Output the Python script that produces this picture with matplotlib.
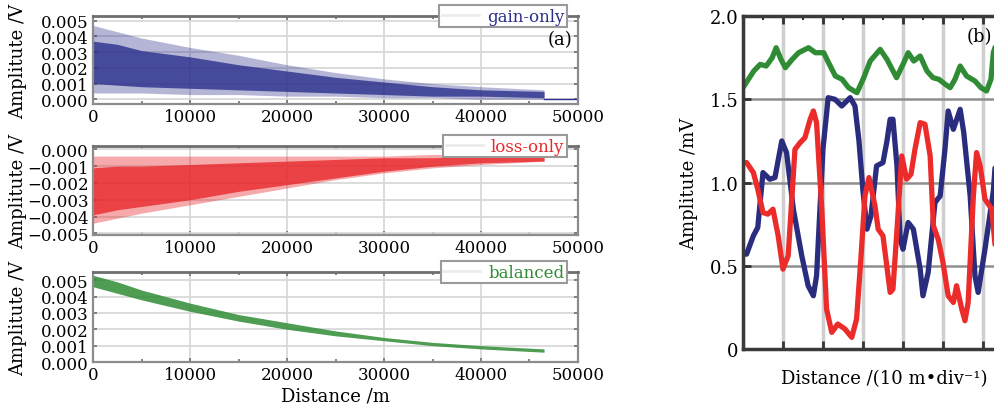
import matplotlib
matplotlib.use('Agg')
import matplotlib.pyplot as plt
from matplotlib.lines import Line2D
from matplotlib.ticker import MultipleLocator, FuncFormatter

plt.rcParams['font.family'] = ['DejaVu Serif', 'DejaVu Sans']
plt.rcParams['axes.unicode_minus'] = True

# ---- (a) envelopes ----
distance = [0, 2500, 5000, 10000, 15000, 20000, 25000, 30000, 35000, 40000, 46500]

gain_outer_hi = [0.0047, 0.0043, 0.0039, 0.0033, 0.0028, 0.0022, 0.0017, 0.0013, 0.0010, 0.0008, 0.0006]
gain_outer_lo = [0.0004, 0.0004, 0.0004, 0.0003, 0.0003, 0.0002, 0.0002, 0.0001, 0.0001, 0.0000, 0.0000]
gain_core_hi = [0.0037, 0.0035, 0.0031, 0.0027, 0.0022, 0.0018, 0.0014, 0.0011, 0.0008, 0.0006, 0.0005]
gain_core_lo = [0.0010, 0.0009, 0.0008, 0.0007, 0.0006, 0.0005, 0.0004, 0.0003, 0.0002, 0.0002, 0.0001]
gain_tail_x = [46500, 50000]
gain_tail_y = [0.00003, 0.00003]

loss_outer_hi = [-0.0004, -0.0004, -0.0004, -0.0004, -0.0004, -0.0004, -0.0004, -0.0004, -0.0003, -0.0003, -0.0003]
loss_outer_lo = [-0.0044, -0.0041, -0.0038, -0.0033, -0.0028, -0.0023, -0.0018, -0.0014, -0.0011, -0.0009, -0.0007]
loss_core_hi = [-0.0011, -0.0010, -0.0010, -0.0009, -0.0008, -0.0007, -0.0006, -0.0005, -0.0005, -0.0004, -0.0004]
loss_core_lo = [-0.0039, -0.0036, -0.0034, -0.0030, -0.0025, -0.0021, -0.0017, -0.0013, -0.0010, -0.0008, -0.0007]

bal_hi = [0.0053, 0.0049, 0.0044, 0.0036, 0.0029, 0.0024, 0.0019, 0.0015, 0.0012, 0.0010, 0.0008]
bal_lo = [0.0046, 0.0042, 0.0038, 0.0031, 0.0025, 0.0020, 0.0016, 0.0013, 0.0010, 0.0008, 0.0006]

# ---- (b) measured curves, x in divisions ----
green_x = [0, 0.27, 0.43, 0.58, 0.73, 0.83, 0.95, 1.06, 1.23, 1.39, 1.64, 1.81, 2.02, 2.14, 2.31,
           2.48, 2.64, 2.85, 3.02, 3.18, 3.43, 3.6, 3.84, 4.02, 4.13, 4.27, 4.43, 4.6, 4.75, 4.9,
           5.06, 5.18, 5.3, 5.43, 5.59, 5.8, 5.95, 6.09, 6.2, 6.26, 6.35]
green_y = [1.57, 1.67, 1.71, 1.70, 1.75, 1.81, 1.74, 1.69, 1.74, 1.78, 1.81, 1.78, 1.78, 1.72, 1.64,
           1.62, 1.57, 1.54, 1.63, 1.73, 1.80, 1.74, 1.63, 1.72, 1.78, 1.73, 1.76, 1.67, 1.63, 1.62,
           1.59, 1.57, 1.62, 1.70, 1.64, 1.61, 1.57, 1.55, 1.62, 1.78, 1.85]

blue_x = [0, 0.09, 0.26, 0.37, 0.5, 0.67, 0.8, 0.97, 1.09, 1.26, 1.47, 1.63, 1.76, 1.84, 2.0, 2.13,
          2.3, 2.47, 2.68, 2.8, 2.9, 3.0, 3.1, 3.2, 3.34, 3.5, 3.6, 3.68, 3.75, 3.85, 3.93, 4.0,
          4.13, 4.26, 4.43, 4.5, 4.63, 4.8, 4.93, 5.05, 5.13, 5.26, 5.43, 5.52, 5.68, 5.8, 5.88,
          6.05, 6.26, 6.35]
blue_y = [0.57, 0.57, 0.68, 0.73, 1.06, 1.02, 1.03, 1.25, 1.18, 0.84, 0.56, 0.38, 0.32, 0.44, 1.20,
          1.51, 1.50, 1.46, 1.51, 1.46, 1.25, 0.95, 0.72, 0.80, 1.10, 1.12, 1.25, 1.38, 1.38, 1.10,
          0.66, 0.60, 0.76, 0.72, 0.48, 0.32, 0.46, 0.88, 0.92, 1.20, 1.43, 1.32, 1.44, 1.30, 0.92,
          0.44, 0.34, 0.60, 0.95, 1.25]

red_x = [0, 0.09, 0.26, 0.37, 0.5, 0.62, 0.75, 0.88, 1.0, 1.13, 1.3, 1.43, 1.55, 1.68, 1.76, 1.84,
         1.97, 2.09, 2.22, 2.37, 2.55, 2.72, 2.84, 2.95, 3.05, 3.15, 3.3, 3.38, 3.5, 3.68, 3.75,
         3.86, 3.97, 4.09, 4.2, 4.3, 4.43, 4.55, 4.68, 4.76, 4.88, 5.0, 5.13, 5.26, 5.34, 5.47,
         5.55, 5.63, 5.76, 5.84, 5.93, 6.05, 6.22, 6.35]
red_y = [1.12, 1.12, 1.06, 0.96, 0.82, 0.81, 0.84, 0.68, 0.48, 0.56, 1.20, 1.24, 1.27, 1.38, 1.43,
         1.36, 0.84, 0.24, 0.10, 0.15, 0.12, 0.07, 0.18, 0.55, 0.92, 1.03, 0.86, 0.72, 0.68, 0.34,
         0.36, 0.75, 1.16, 1.02, 1.05, 1.20, 1.36, 1.35, 1.16, 0.74, 0.66, 0.52, 0.32, 0.28, 0.38,
         0.24, 0.17, 0.28, 0.92, 1.18, 1.10, 0.90, 0.84, 0.50]

right_yticks = [0, 0.5, 1.0, 1.5, 2.0]
right_yticklabels = ['0', '0.5', '1.0', '1.5', '2.0']

BLUE = '#2b2f8c'
RED = '#e8282c'
GREEN = '#2f8c34'


def _fmt(v, pos):
    s = f'{v:.3f}'
    if s == '-0.000':
        s = '0.000'
    return s.replace('-', '\u2212')


def style_left(ax, ylim, label, color):
    ax.set_xlim(0, 50000)
    ax.set_ylim(*ylim)
    ax.xaxis.set_major_locator(MultipleLocator(10000))
    ax.xaxis.set_minor_locator(MultipleLocator(5000))
    ax.yaxis.set_major_locator(MultipleLocator(0.001))
    ax.yaxis.set_major_formatter(FuncFormatter(_fmt))
    ax.set_axisbelow(True)
    ax.grid(True, which='major', color='#d6d6d6', lw=1.2)
    for s in ax.spines.values():
        s.set_color('#8c8c8c')
        s.set_linewidth(1.6)
    ax.spines['top'].set_color('#6e6e6e')
    ax.spines['top'].set_linewidth(2.0)
    ax.tick_params(direction='in', top=True, right=True, length=3, width=1.2,
                   color='#6e6e6e', labelsize=12, pad=3)
    ax.tick_params(which='minor', direction='in', top=True, bottom=True, length=2.5, width=1.2,
                   color='#6e6e6e')
    ax.set_ylabel('Amplitute /V', fontsize=13)
    ax.yaxis.set_label_coords(-0.135, 0.5)
    handle = Line2D([], [], color='#ececec', lw=2)
    leg = ax.legend([handle], [label], loc='upper right', bbox_to_anchor=(0.977, 1.12),
                    labelcolor=color, fancybox=False, edgecolor='#9a9a9a', framealpha=1,
                    handlelength=2.2, handletextpad=0.5, borderpad=0.15, borderaxespad=0,
                    fontsize=12)
    leg.get_frame().set_linewidth(1.5)
    leg.set_zorder(10)


fig = plt.figure(figsize=(9.95, 4.10), dpi=100)

ax1 = fig.add_axes([0.0935, 0.7439, 0.4874, 0.2146])
ax2 = fig.add_axes([0.0935, 0.4244, 0.4874, 0.2170])
ax3 = fig.add_axes([0.0935, 0.1146, 0.4874, 0.2195])

ax1.fill_between(distance, gain_outer_lo, gain_outer_hi, color=BLUE, alpha=0.35, lw=0, zorder=2)
ax1.fill_between(distance, gain_core_lo, gain_core_hi, color=BLUE, alpha=0.8, lw=0, zorder=2)
ax1.plot(gain_tail_x, gain_tail_y, color=BLUE, lw=1, zorder=2)
style_left(ax1, (-0.0003, 0.0053), 'gain-only', BLUE)
ax1.text(0.988, 0.74, '(a)', transform=ax1.transAxes, ha='right', va='center', fontsize=13)

ax2.fill_between(distance, loss_outer_lo, loss_outer_hi, color=RED, alpha=0.4, lw=0, zorder=2)
ax2.fill_between(distance, loss_core_lo, loss_core_hi, color=RED, alpha=0.8, lw=0, zorder=2)
style_left(ax2, (-0.0051, 0.0002), 'loss-only', RED)

ax3.fill_between(distance, bal_lo, bal_hi, color=GREEN, alpha=0.85, lw=0, zorder=2)
style_left(ax3, (0, 0.0055), 'balanced', GREEN)
ax3.set_xlabel('Distance /m', fontsize=13)
ax3.xaxis.set_label_coords(0.5, -0.27)

# ---- (b) ----
axb = fig.add_axes([0.7467, 0.1463, 0.2814, 0.8120])
axb.plot(green_x, green_y, color=GREEN, lw=3.8, solid_capstyle='round', solid_joinstyle='round')
axb.plot(blue_x, blue_y, color='#2a2c7e', lw=3.8, solid_capstyle='round', solid_joinstyle='round')
axb.plot(red_x, red_y, color='#ec2b2b', lw=3.8, solid_capstyle='round', solid_joinstyle='round')
axb.set_xlim(0, 7)
axb.set_ylim(0, 2.0)
axb.xaxis.set_major_locator(MultipleLocator(1))
axb.xaxis.set_minor_locator(MultipleLocator(0.5))
axb.set_yticks(right_yticks)
axb.set_yticklabels(right_yticklabels)
axb.set_axisbelow(True)
axb.grid(True, axis='x', color='#cfcfcf', lw=2.5)
axb.grid(True, axis='y', color='#8e8e8e', lw=1.8)
for s in axb.spines.values():
    s.set_color('#3a3a3a')
    s.set_linewidth(2.5)
axb.tick_params(axis='x', direction='in', top=True, length=6, width=2, color='#333333',
                labelbottom=False)
axb.tick_params(axis='x', which='minor', direction='in', top=True, bottom=False, length=3,
                width=1.5, color='#333333')
axb.tick_params(axis='y', direction='in', length=6, width=2, color='#333333', labelsize=13, pad=3)
axb.set_ylabel('Amplitute /mV', fontsize=13)
axb.yaxis.set_label_coords(-0.16, 0.5)
axb.set_xlabel('Distance /(10 m\u2022div\u207b\u00b9)', fontsize=13)
axb.xaxis.set_label_coords(0.504, -0.06)
axb.text(5.6, 1.88, '(b)', ha='left', va='center', fontsize=13)

fig.savefig('out.png', dpi=100)
